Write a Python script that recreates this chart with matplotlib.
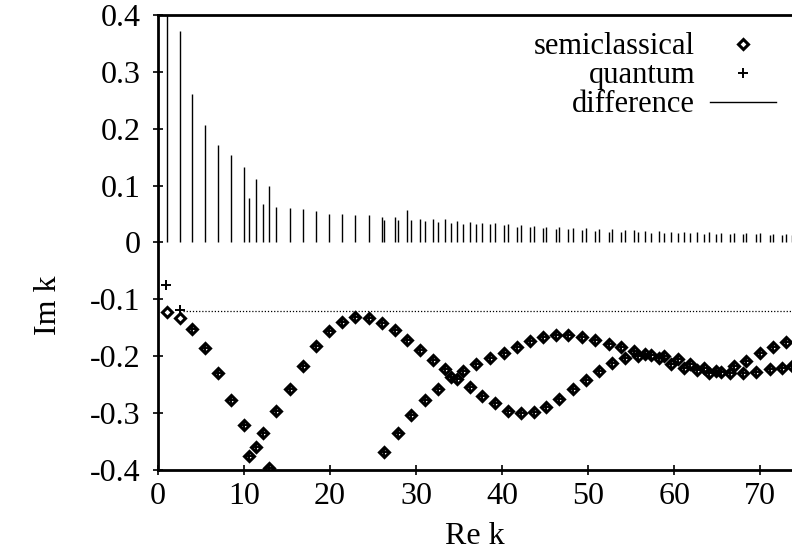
import numpy as np
import matplotlib
matplotlib.use('Agg')
from matplotlib import pyplot as plt

plt.rcParams['font.family'] = ['Liberation Serif', 'DejaVu Serif']

# resonances: Re k, Im k (semiclassical), Im k (quantum), difference
re_k = [1.0, 2.5, 3.9, 5.42, 6.94, 8.48, 10.0, 10.55, 11.4, 12.15, 12.9, 13.7,
        15.3, 16.8, 18.35, 19.9, 21.4, 22.95, 24.5, 26.0, 26.3, 27.5, 27.9,
        29.0, 29.4, 30.5, 31.0, 32.0, 32.5, 33.4, 34.1, 34.8, 35.5, 36.3,
        37.0, 37.7, 38.6, 39.2, 40.2, 40.7, 41.7, 42.2, 43.3, 43.7, 44.7,
        45.1, 46.3, 46.6, 47.7, 48.2, 49.3, 49.7, 50.8, 51.3, 52.4, 52.8,
        53.8, 54.3, 55.3, 55.8, 56.6, 57.3, 58.2, 58.8, 59.6, 60.4, 61.2,
        61.8, 62.6, 63.5, 64.1, 64.9, 65.5, 66.5, 67.0, 68.0, 68.4, 69.5,
        70.0, 71.1, 71.5, 72.5, 73.0, 73.7]
im_semi = [-0.122, -0.132, -0.153, -0.186, -0.229, -0.277, -0.321, -0.376,
           -0.359, -0.335, -0.396, -0.296, -0.257, -0.217, -0.182, -0.156,
           -0.139, -0.131, -0.133, -0.141, -0.368, -0.154, -0.335, -0.172,
           -0.303, -0.189, -0.277, -0.207, -0.257, -0.223, -0.237, -0.240,
           -0.226, -0.255, -0.214, -0.270, -0.204, -0.283, -0.195, -0.296,
           -0.184, -0.299, -0.174, -0.298, -0.167, -0.290, -0.163, -0.275,
           -0.163, -0.258, -0.167, -0.241, -0.171, -0.226, -0.178, -0.212,
           -0.184, -0.203, -0.191, -0.199, -0.196, -0.198, -0.204, -0.199,
           -0.213, -0.205, -0.220, -0.213, -0.224, -0.220, -0.230, -0.226,
           -0.227, -0.230, -0.217, -0.229, -0.208, -0.227, -0.194, -0.223,
           -0.183, -0.220, -0.175, -0.217]
im_quant = [-0.075, -0.118] + im_semi[2:]
re_quant = [0.9] + re_k[1:]
diff = [0.45, 0.372, 0.261, 0.206, 0.171, 0.154, 0.132, 0.078, 0.111, 0.068,
        0.100, 0.063, 0.060, 0.058, 0.056, 0.050, 0.050, 0.049, 0.049, 0.044,
        0.040, 0.044, 0.040, 0.057, 0.040, 0.041, 0.038, 0.041, 0.036, 0.041,
        0.034, 0.038, 0.033, 0.036, 0.032, 0.035, 0.032, 0.034, 0.030, 0.032,
        0.028, 0.030, 0.027, 0.029, 0.026, 0.028, 0.024, 0.027, 0.023, 0.026,
        0.021, 0.025, 0.020, 0.024, 0.019, 0.023, 0.018, 0.022, 0.021, 0.018,
        0.020, 0.017, 0.020, 0.017, 0.019, 0.016, 0.019, 0.016, 0.018, 0.015,
        0.018, 0.015, 0.017, 0.014, 0.017, 0.014, 0.016, 0.014, 0.016, 0.013,
        0.015, 0.013, 0.015, 0.013]
ref_level = -0.121

fig = plt.figure(figsize=(7.92, 5.52), dpi=100)
ax = fig.add_axes([0.1995, 0.1486, 0.8005, 0.8244])

ax.plot(re_k, im_semi, linestyle='none', marker='D', markersize=4.8,
        markerfacecolor='none', markeredgecolor='black', markeredgewidth=2.2,
        label='semiclassical')
ax.plot(re_quant, im_quant, linestyle='none', marker='+', markersize=6.5,
        color='black', markeredgewidth=1.4, label='quantum')
ax.vlines(re_k, 0, diff, color='black', lw=1.0)
ax.plot([], [], color='black', lw=1.0, label='difference')
ax.hlines(ref_level, 2.9, 74, color='black', lw=0.9, linestyles=(0, (1, 1.5)))

ax.set_xlim(0, 73.7)
ax.set_ylim(-0.4, 0.4)
ax.set_xticks(np.arange(0, 71, 10))
ax.set_yticks(np.arange(-0.4, 0.41, 0.1))
ax.set_yticklabels(['-0.4', '-0.3', '-0.2', '-0.1', '0', '0.1', '0.2', '0.3', '0.4'])
ax.tick_params(direction='inout', length=7, width=1.2, labelsize=23)
ax.tick_params(axis='y', pad=9)
ax.tick_params(axis='x', pad=5)
for s in ['left', 'bottom', 'top']:
    ax.spines[s].set_linewidth(2)
ax.spines['right'].set_visible(False)

ax.set_xlabel('Re k', fontsize=23)
ax.set_ylabel('Im k', fontsize=23)
ax.xaxis.set_label_coords(0.5, -0.114)
ax.yaxis.set_label_coords(-0.15, 0.363)

leg = ax.legend(loc='upper right', bbox_to_anchor=(0.975, 0.962), frameon=False,
                markerfirst=False, fontsize=22, handlelength=2.15,
                handletextpad=0.5, labelspacing=0.0, borderaxespad=0,
                borderpad=0)

fig.savefig('out.png', dpi=100)
